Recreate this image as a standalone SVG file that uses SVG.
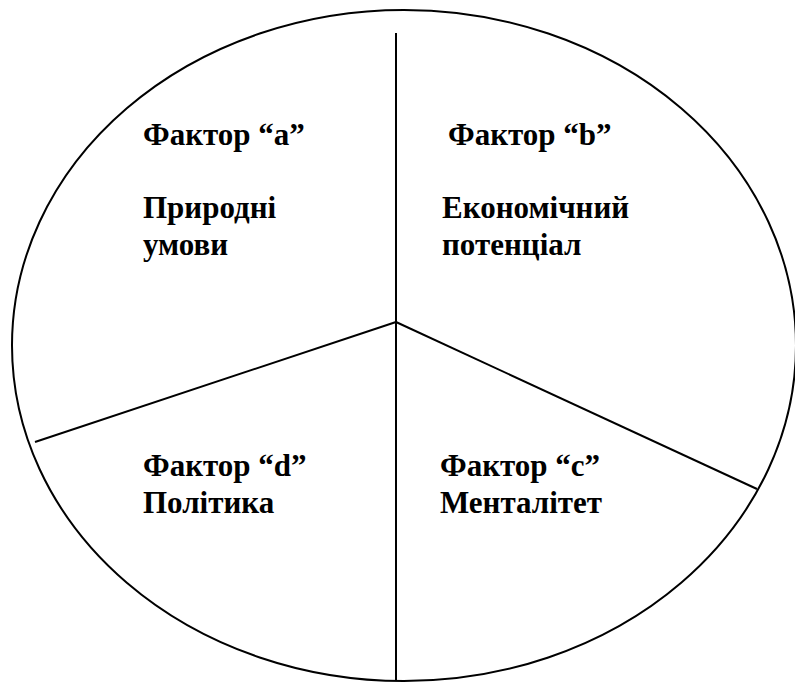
<svg xmlns="http://www.w3.org/2000/svg" width="795" height="682" viewBox="0 0 795 682">
<style>
.ln{stroke:#000;stroke-width:2;fill:none}
.t{font-family:"Liberation Serif","Tinos","Times New Roman",serif;font-weight:bold;font-size:31px;fill:#000}
</style>
<rect width="795" height="682" fill="#fff"/>
<g id="circle"><ellipse class="ln" cx="404" cy="345.5" rx="392" ry="335.5"/></g>
<g id="connectors">
<line class="ln" x1="396" y1="33" x2="396" y2="681"/>
<line class="ln" x1="396" y1="322" x2="35" y2="442"/>
<line class="ln" x1="396" y1="322" x2="757" y2="489"/>
</g>
<g id="factor-a">
<text class="t" x="143" y="145">Фактор “a”</text>
<text class="t" x="143" y="218">Природні</text>
<text class="t" x="143" y="255">умови</text>
</g>
<g id="factor-b">
<text class="t" x="448" y="145">Фактор “b”</text>
<text class="t" x="442" y="218">Економічний</text>
<text class="t" x="442" y="255">потенціал</text>
</g>
<g id="factor-d">
<text class="t" x="143" y="476">Фактор “d”</text>
<text class="t" x="143" y="513">Політика</text>
</g>
<g id="factor-c">
<text class="t" x="440" y="476">Фактор “c”</text>
<text class="t" x="440" y="513">Менталітет</text>
</g>
</svg>
